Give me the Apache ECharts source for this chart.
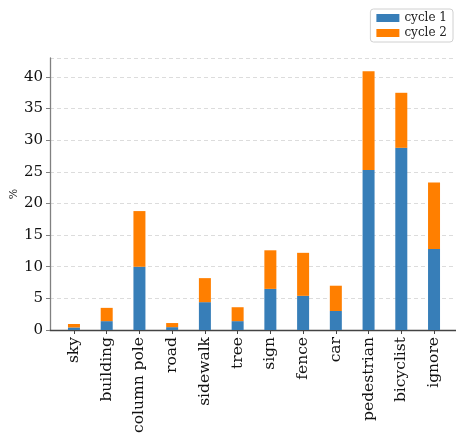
<!DOCTYPE html>
<html lang="en">
<head>
    <meta charset="UTF-8">
    <title>cycle chart</title>
    <script src="https://cdn.jsdelivr.net/npm/echarts@6/dist/echarts.min.js"></script>
    <style>
        html, body { margin: 0; padding: 0; background: #fff; }
    </style>
</head>
<body>
    <div id="main" style="width: 456px;height:434px;"></div>
    <script type="text/javascript">
        // categories and values (percent)
        var categories = ['sky', 'building', 'column pole', 'road', 'sidewalk', 'tree',
            'sign', 'fence', 'car', 'pedestrian', 'bicyclist', 'ignore'];
        var cycle1 = [0.4, 1.4, 10.0, 0.45, 4.4, 1.4, 6.5, 5.4, 3.0, 25.3, 28.8, 12.8];
        var cycle2 = [0.55, 2.1, 8.8, 0.65, 3.8, 2.2, 6.1, 6.8, 4.0, 15.6, 8.7, 10.5];
        var seriesNames = ['cycle 1', 'cycle 2'];
        var yMax = 43;

        var font = 'DejaVu Serif';
        var myChart = echarts.init(document.getElementById('main'));

        var option = {
            animation: false,
            textStyle: { fontFamily: font },
            legend: {
                data: seriesNames,
                orient: 'vertical',
                right: 3,
                top: 9,
                icon: 'rect',
                itemWidth: 23,
                itemHeight: 8,
                itemGap: 3,
                padding: [3, 6, 3, 6],
                borderColor: '#d0d0d0',
                borderWidth: 1,
                borderRadius: 3,
                textStyle: { fontFamily: font, fontSize: 12, color: '#222' }
            },
            grid: [
                // full frame: y axis, grid lines, bottom spine
                { left: 50, right: 0, top: 58, bottom: 104, outerBoundsMode: 'none' },
                // bars
                { left: 57.6, right: 5.6, top: 58, bottom: 104, outerBoundsMode: 'none' }
            ],
            xAxis: [
                {
                    gridIndex: 0, type: 'value', min: 0, max: 1,
                    axisLine: { show: true, lineStyle: { color: '#444', width: 1.3 } },
                    axisTick: { show: false }, axisLabel: { show: false },
                    splitLine: { show: false }
                },
                {
                    gridIndex: 1, type: 'category', data: categories,
                    axisLine: { show: false },
                    axisTick: { show: true, alignWithLabel: true, length: 4, lineStyle: { color: '#444' } },
                    axisLabel: { rotate: 90, fontFamily: font, fontSize: 15.5, color: '#111', margin: 7 }
                }
            ],
            yAxis: [
                {
                    gridIndex: 0, type: 'value', min: 0, max: yMax, interval: 5,
                    name: '%', nameLocation: 'middle', nameGap: 30, nameRotate: 90,
                    nameMoveOverlap: false,
                    nameTextStyle: { fontFamily: font, fontSize: 11, color: '#222' },
                    axisLine: { show: true, lineStyle: { color: '#808080', width: 1.3 } },
                    axisTick: { show: true, length: 4, lineStyle: { color: '#808080' } },
                    axisLabel: { fontFamily: font, fontSize: 15, color: '#111', margin: 7,
                        showMaxLabel: false },
                    splitLine: { show: true, lineStyle: { color: '#dcdcdc', type: [4, 3] } }
                },
                {
                    gridIndex: 1, type: 'value', min: 0, max: yMax,
                    axisLine: { show: false }, axisTick: { show: false },
                    axisLabel: { show: false }, splitLine: { show: false }
                }
            ],
            series: [
                {
                    name: seriesNames[0], type: 'bar', stack: 'total',
                    xAxisIndex: 1, yAxisIndex: 1, barWidth: 12,
                    itemStyle: { color: '#377eb8' },
                    data: cycle1
                },
                {
                    name: seriesNames[1], type: 'bar', stack: 'total',
                    xAxisIndex: 1, yAxisIndex: 1, barWidth: 12,
                    itemStyle: { color: '#ff7f00' },
                    data: cycle2
                }
            ]
        };
        myChart.setOption(option);
    </script>
</body>
</html>
